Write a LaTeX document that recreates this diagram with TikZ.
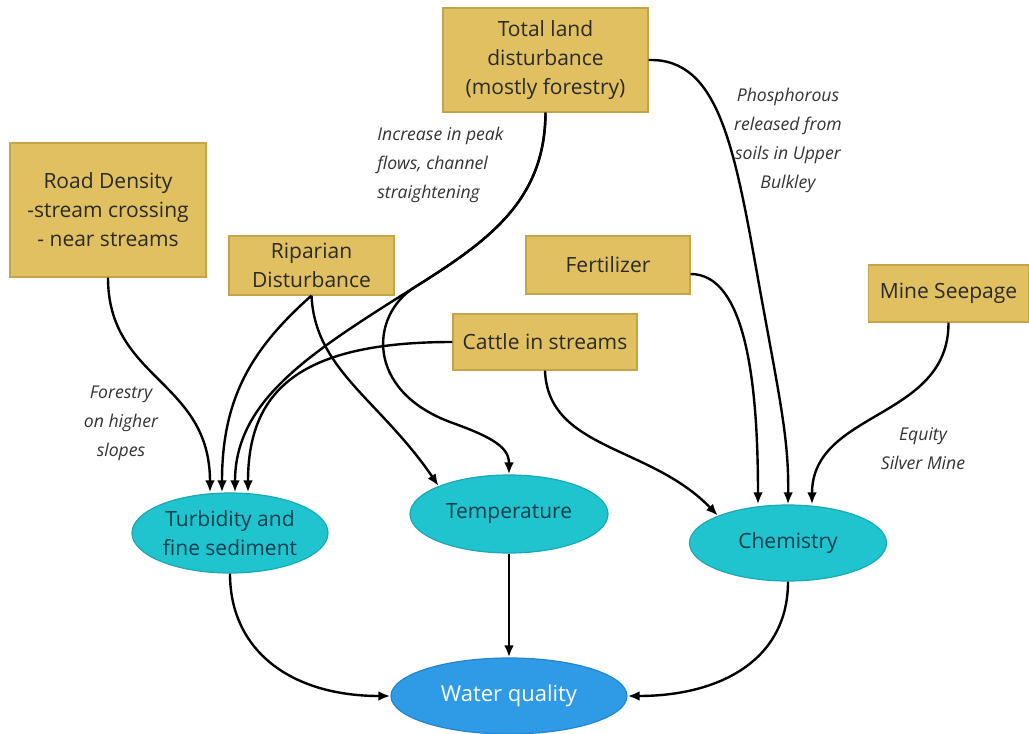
\documentclass[tikz,border=0pt]{standalone}
\usepackage{fontspec}
\setmainfont{Open Sans}
\usetikzlibrary{arrows.meta,shapes.geometric}
\definecolor{boxfill}{HTML}{E0C060}
\definecolor{boxline}{HTML}{C4A448}
\definecolor{ellfill}{HTML}{20C4CF}
\definecolor{ellline}{HTML}{1AA8B4}
\definecolor{elltext}{HTML}{0E3C4A}
\definecolor{wqfill}{HTML}{2F9BE6}
\definecolor{wqline}{HTML}{2385CC}
\definecolor{boxtext}{HTML}{2A2A2A}
\definecolor{labtext}{HTML}{333333}
\begin{document}
\begin{tikzpicture}[x=0.5pt,y=-0.5pt,
  factor/.style={draw=boxline,line width=0.6pt,fill=boxfill,rectangle,inner sep=0pt,
    align=center,text=boxtext,font=\fontsize{10.5pt}{14.5pt}\selectfont},
  effect/.style={draw=ellline,line width=0.6pt,fill=ellfill,ellipse,inner sep=0pt,
    align=center,text=elltext,font=\fontsize{10.5pt}{14.5pt}\selectfont},
  wq/.style={draw=wqline,line width=0.6pt,fill=wqfill,ellipse,inner sep=0pt,
    align=center,text=white,font=\fontsize{11pt}{14.5pt}\selectfont},
  lab/.style={inner sep=0pt,text=labtext,font=\fontsize{8.8pt}{14.5pt}\selectfont\itshape},
  link/.style={line width=1.2pt,-{Latex[length=6pt,width=4.8pt]}}]
\useasboundingbox (0,0) rectangle (1029,734);
% boxes
\node[factor,minimum width=102.5pt,minimum height=52pt] (tl) at (545.5,60) {Total land\\disturbance\\(mostly forestry)};
\node[factor,minimum width=98pt,minimum height=67pt] (road) at (108,210) {Road Density\\-stream crossing\\- near streams};
\node[factor,minimum width=82.5pt,minimum height=29.5pt] (rip) at (311.5,265.5) {Riparian\\Disturbance};
\node[factor,minimum width=82pt,minimum height=29pt] (fert) at (608,265) {Fertilizer};
\node[factor,minimum width=80pt,minimum height=28.5pt] (mine) at (948.5,293.5) {Mine Seepage};
\node[factor,minimum width=92pt,minimum height=28pt] (cat) at (545,342) {Cattle in streams};
% ellipses
\node[effect,minimum width=98pt,minimum height=40pt] (turb) at (230,533) {Turbidity and\\fine sediment};
\node[effect,minimum width=99pt,minimum height=39pt] (temp) at (509,514) {Temperature};
\node[effect,minimum width=98.5pt,minimum height=38pt] (chem) at (788,543) {Chemistry};
\node[wq,minimum width=118pt,minimum height=38pt] (wq) at (509,696) {Water quality};
% labels
\node[lab,anchor=west,align=left] (l1) at (377,165) {Increase in peak\\flows, channel\\straightening};
\node[lab,align=center] (l2) at (788,140) {Phosphorous\\released from\\soils in Upper\\Bulkley};
\node[lab,align=center] (l3) at (121,423) {Forestry\\on higher\\slopes};
\node[lab,align=center] (l4) at (923,449) {Equity\\Silver Mine};
% branch point
\coordinate (br) at (415,287);
\coordinate (bend) at (450,422);
% connectors into turbidity
\draw[link] (road.south) .. controls (108,380) and (210,380) .. ([xshift=-10pt]turb.north);
\draw[link] (rip.south) .. controls (250,350) and (222,400) .. ([xshift=-4pt]turb.north);
\draw[link] (tl.south) .. controls (545,200) and (490,240) .. (br) .. controls (310,353) and (235,400) .. ([xshift=2.5pt]turb.north);
\draw[link] (cat.west) .. controls (300,342) and (248,390) .. ([xshift=9pt]turb.north);
% connectors into temperature
\draw[link] (rip.south) .. controls (315,370) and (380,400) .. (temp.north west);
\draw[link] (tl.south) .. controls (545,200) and (490,240) .. (br) .. controls (370,315) and (365,390) .. (bend) .. controls (495,438) and (509,448) .. (temp.north);
% connectors into chemistry
\draw[link] (cat.south) .. controls (548,450) and (650,445) .. (chem.north west);
\draw[link] ([yshift=-4.5pt]fert.east) .. controls (745,274) and (758,380) .. ([xshift=-15pt]chem.north);
\draw[link] (tl.east) .. controls (720,58) and (735,150) .. (760,290) .. controls (780,400) and (789,440) .. (chem.north);
\draw[link] (mine.south) .. controls (949,420) and (812,410) .. ([xshift=12pt]chem.north);
% into water quality
\draw[link] (turb.south) .. controls (230,650) and (290,696) .. (wq.west);
\draw[link] (temp.south) -- (wq.north);
\draw[link] (chem.south) .. controls (788,660) and (720,696) .. (wq.east);
\end{tikzpicture}
\end{document}
